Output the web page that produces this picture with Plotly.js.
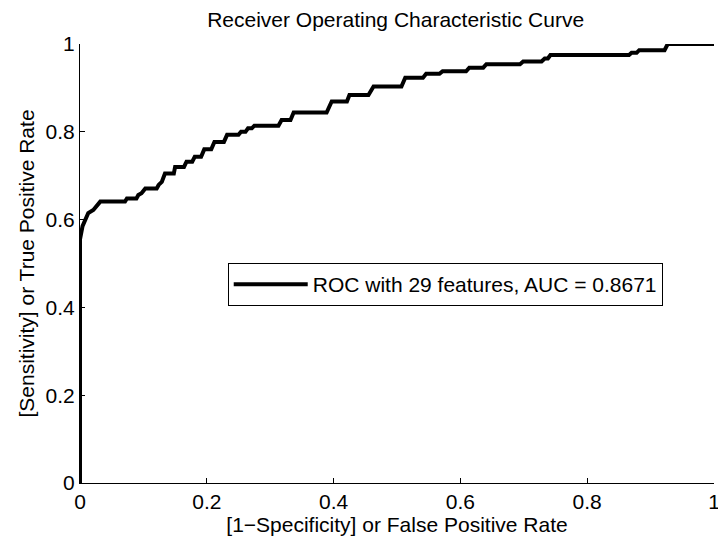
<!DOCTYPE html>
<html>
<head>
<meta charset="utf-8">
<script src="https://cdn.plot.ly/plotly-3.0.1.min.js"></script>
<style>html,body{margin:0;padding:0;background:#fff;}#chart{width:718px;height:537px;}</style>
</head>
<body>
<div id="chart"></div>
<script>
const fpr = [0, 0, 0.004, 0.008, 0.013, 0.021, 0.026, 0.032, 0.071, 0.074, 0.089, 0.092, 0.097, 0.100, 0.103,
  0.121, 0.124, 0.129, 0.131, 0.134, 0.148, 0.150, 0.164, 0.168, 0.177, 0.181, 0.191, 0.196, 0.207, 0.212,
  0.227, 0.232, 0.250, 0.254, 0.261, 0.265, 0.271, 0.275, 0.313, 0.318, 0.332, 0.337, 0.389, 0.397, 0.421,
  0.425, 0.455, 0.463, 0.507, 0.513, 0.541, 0.546, 0.567, 0.572, 0.609, 0.614, 0.636, 0.641, 0.694, 0.699,
  0.728, 0.733, 0.738, 0.742, 0.866, 0.870, 0.878, 0.882, 0.922, 0.927, 1];
const tpr = [0, 0.555, 0.585, 0.600, 0.615, 0.622, 0.632, 0.641, 0.641, 0.648, 0.648, 0.656, 0.660, 0.665, 0.671,
  0.671, 0.679, 0.686, 0.695, 0.705, 0.705, 0.720, 0.720, 0.732, 0.732, 0.743, 0.743, 0.760, 0.760, 0.777,
  0.777, 0.793, 0.793, 0.800, 0.800, 0.808, 0.808, 0.814, 0.814, 0.827, 0.827, 0.844, 0.844, 0.869, 0.869,
  0.884, 0.884, 0.903, 0.903, 0.923, 0.923, 0.932, 0.932, 0.938, 0.938, 0.946, 0.946, 0.954, 0.954, 0.960,
  0.960, 0.967, 0.967, 0.975, 0.975, 0.980, 0.980, 0.986, 0.986, 1.0, 1.0];
const seriesName = 'ROC with 29 features, AUC = 0.8671';
const tickVals = [0, 0.2, 0.4, 0.6, 0.8, 1];
const tickLabels = ['0', '0.2', '0.4', '0.6', '0.8', '1'];

const font = {family: '"Liberation Sans", Arial, sans-serif', size: 21, color: '#000'};
const axisCommon = {
  range: [0, 1], tickvals: tickVals, ticktext: tickLabels,
  showline: true, linecolor: '#000', linewidth: 1, mirror: false,
  ticks: 'inside', ticklen: 5, tickcolor: '#000', tickwidth: 1,
  showgrid: false, zeroline: false, automargin: false,
  ticklabeloverflow: 'allow',
  tickfont: font
};
Plotly.newPlot('chart', [{
  x: fpr, y: tpr, type: 'scatter', mode: 'lines', name: seriesName,
  line: {color: '#000', width: 4}
}], {
  width: 718, height: 537,
  margin: {l: 80, r: 4, t: 44, b: 54},
  paper_bgcolor: '#fff', plot_bgcolor: '#fff',
  font: font,
  showlegend: true,
  title: {text: 'Receiver Operating Characteristic Curve', font: font, x: 0.551, xanchor: 'center', y: 0.963, yanchor: 'middle'},
  xaxis: Object.assign({}, axisCommon, {title: {text: '[1−Specificity] or False Positive Rate', font: font, standoff: 0}}),
  yaxis: Object.assign({}, axisCommon, {title: {text: '[Sensitivity] or True Positive Rate', font: font, standoff: 5}}),
  legend: {x: 0.233, xanchor: 'left', y: 0.452, yanchor: 'middle', bgcolor: '#fff',
    bordercolor: '#000', borderwidth: 1, font: font, itemwidth: 74}
}, {staticPlot: true});
</script>
</body>
</html>
